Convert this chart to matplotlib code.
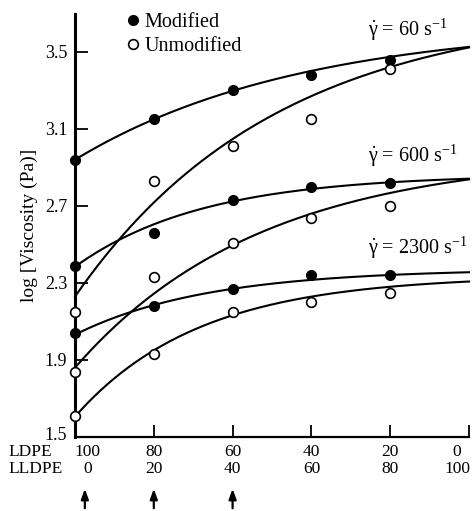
import numpy as np
import matplotlib
matplotlib.use("Agg")
import matplotlib.pyplot as plt
from matplotlib.lines import Line2D
from matplotlib.transforms import blended_transform_factory, ScaledTranslation

plt.rcParams['font.family'] = ['Liberation Serif', 'DejaVu Serif']
plt.rcParams['mathtext.fontset'] = 'custom'
plt.rcParams['mathtext.rm'] = 'Liberation Serif'
plt.rcParams['mathtext.it'] = 'Liberation Serif:italic'

# LLDPE content (%) of the blends, LDPE is the rest
lldpe = [0, 20, 40, 60, 80]
curve_x = [0, 20, 40, 60, 80, 100]
ldpe_labels = ['100', '80', '60', '40', '20', '0']
lldpe_labels = ['0', '20', '40', '60', '80', '100']
y_ticks = [1.5, 1.9, 2.3, 2.7, 3.1, 3.5]

# measured log viscosity, modified / unmodified, per shear rate
mod_60 = [2.94, 3.15, 3.30, 3.38, 3.46]
unmod_60 = [2.15, 2.83, 3.01, 3.15, 3.41]
mod_600 = [2.39, 2.56, 2.73, 2.80, 2.82]
unmod_600 = [1.84, 2.33, 2.51, 2.64, 2.70]
mod_2300 = [2.04, 2.18, 2.27, 2.34, 2.34]
unmod_2300 = [1.61, 1.93, 2.15, 2.20, 2.25]

# hand drawn trend curves, read at 0..100 % LLDPE
fit_mod_60 = [2.94, 3.15, 3.30, 3.40, 3.47, 3.53]
fit_unmod_60 = [2.23, 2.71, 3.07, 3.25, 3.42, 3.53]
fit_mod_600 = [2.39, 2.585, 2.735, 2.80, 2.825, 2.83]
fit_unmod_600 = [1.87, 2.21, 2.52, 2.67, 2.77, 2.825]
fit_mod_2300 = [2.035, 2.175, 2.27, 2.33, 2.345, 2.345]
fit_unmod_2300 = [1.61, 1.93, 2.16, 2.22, 2.28, 2.305]

rate_labels = [r'$\dot{\mathrm{\gamma}}$ = 60 s$^{-1}$',
               r'$\dot{\mathrm{\gamma}}$ = 600 s$^{-1}$',
               r'$\dot{\mathrm{\gamma}}$ = 2300 s$^{-1}$']
arrow_at = [0, 20, 40]


def smooth_curve(x, y, xs):
    # y = a + b*exp(-x/c): pick c on a grid, a and b by least squares
    x = np.asarray(x, float)
    y = np.asarray(y, float)
    best = None
    for c in np.linspace(10, 400, 400):
        A = np.column_stack([np.ones_like(x), np.exp(-x / c)])
        coef, res, _, _ = np.linalg.lstsq(A, y, rcond=None)
        err = np.sum((A @ coef - y) ** 2)
        if best is None or err < best[0]:
            best = (err, c, coef)
    _, c, (a, b) = best
    return a + b * np.exp(-xs / c)


W, H = 474, 511
fig = plt.figure(figsize=(W / 100, H / 100), dpi=100)
ax = fig.add_axes([75 / W, 74 / H, 394 / W, 423 / H])

xs = np.linspace(0, 100, 300)
for fit in [fit_mod_60, fit_unmod_60, fit_mod_600, fit_unmod_600,
            fit_mod_2300, fit_unmod_2300]:
    ax.plot(xs, smooth_curve(curve_x, fit, xs), color='black', lw=1.5,
            clip_on=False, zorder=3)

for vals in [mod_60, mod_600, mod_2300]:
    ax.plot(lldpe, vals, 'o', color='black', ms=7, clip_on=False, zorder=5)
for vals in [unmod_60, unmod_600, unmod_2300]:
    ax.plot(lldpe, vals, 'o', mfc='white', mec='black', mew=1.2, ms=7,
            clip_on=False, zorder=5)

ax.set_xlim(0, 100)
ax.set_ylim(1.5, 3.697)
ax.spines['top'].set_visible(False)
ax.spines['right'].set_visible(False)
ax.spines['left'].set_linewidth(2.2)
ax.spines['bottom'].set_linewidth(1.6)
ax.set_yticks(y_ticks)
ax.set_yticklabels(['%.1f' % t for t in y_ticks])
ax.set_xticks(curve_x)
ax.set_xticklabels([])
ax.tick_params(axis='both', direction='in', length=9, width=1.3,
               labelsize=13, pad=5.5)
ax.set_ylabel('log [Viscosity (Pa)]', fontsize=14, labelpad=5)

# the lowest y label sits a little higher, clear of the LDPE row
fig.canvas.draw()
lowest = ax.get_yticklabels()[0]
lowest.set_transform(lowest.get_transform()
                     + ScaledTranslation(0, 4 / 100, fig.dpi_scale_trans))

# two rows of composition labels under the axis
trans = blended_transform_factory(ax.transData, fig.transFigure)
for i, x in enumerate(curve_x):
    dx = 0
    if i == 0:
        dx = 3.2
    elif i == len(curve_x) - 1:
        dx = -3.0
    ax.text(x + dx, 1 - 452 / H, ldpe_labels[i], transform=trans,
            ha='center', va='center', fontsize=12.5)
    ax.text(x + dx, 1 - 469 / H, lldpe_labels[i], transform=trans,
            ha='center', va='center', fontsize=12.5)
fig.text(8 / W, 1 - 452 / H, 'LDPE', ha='left', va='center', fontsize=12.5)
fig.text(8 / W, 1 - 469 / H, 'LLDPE', ha='left', va='center', fontsize=12.5)

for i, x in enumerate(arrow_at):
    dx = 2.5 if i == 0 else 0
    ax.annotate('', xy=(x + dx, 1 - 486 / H), xytext=(x + dx, 0),
                xycoords=trans, textcoords=trans, annotation_clip=False,
                arrowprops=dict(arrowstyle='-|>,head_length=0.6,head_width=0.22',
                                color='black', lw=1.6))

handles = [Line2D([], [], ls='none', marker='o', color='black', ms=7),
           Line2D([], [], ls='none', marker='o', mfc='white', mec='black',
                  mew=1.2, ms=7)]
fig.legend(handles, ['Modified', 'Unmodified'], loc='upper left',
           bbox_to_anchor=(126 / W, 1 - 13 / H), frameon=False, fontsize=14.5,
           handlelength=0.7, handletextpad=0.2, labelspacing=0.25,
           borderpad=0, borderaxespad=0)

for lab, yy in zip(rate_labels, [30, 156, 248]):
    fig.text(368 / W, 1 - yy / H, lab, ha='left', va='center', fontsize=14.5)

fig.savefig('out.png', dpi=100)
